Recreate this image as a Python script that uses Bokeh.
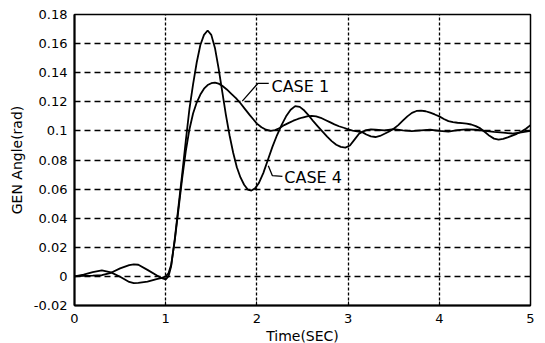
from bokeh.plotting import figure
from bokeh.models import Range1d, FixedTicker, Label
from bokeh.embed import file_html
from bokeh.resources import INLINE

# ---------------- data ----------------
time_case4 = [0.00, 0.10, 0.20, 0.30, 0.40, 0.50, 0.60, 0.65, 0.70, 0.80, 0.90, 0.95,
              1.00, 1.03, 1.06, 1.10, 1.14, 1.18, 1.22, 1.26, 1.30, 1.34, 1.38, 1.42,
              1.46, 1.50, 1.54, 1.58, 1.62, 1.66, 1.70, 1.74, 1.78, 1.82, 1.86, 1.90,
              1.94, 1.98, 2.02, 2.07, 2.12, 2.17, 2.22, 2.27, 2.32, 2.37, 2.42, 2.47,
              2.52, 2.57, 2.62, 2.67, 2.72, 2.77, 2.82, 2.87, 2.92, 2.97, 3.02, 3.07,
              3.12, 3.16, 3.20, 3.25, 3.30, 3.40, 3.50, 3.60, 3.70, 3.80, 3.90, 4.00,
              4.10, 4.20, 4.30, 4.40, 4.50, 4.60, 4.70, 4.80, 4.90, 5.00]
angle_case4 = [0.0, 0.0003, 0.0005, 0.0008, 0.0025, 0.0055, 0.0078, 0.0083, 0.0080, 0.0045, 0.0008, -0.0010,
               -0.0020, 0.0000, 0.0070, 0.0260, 0.0480, 0.0700, 0.0930, 0.1150, 0.1320, 0.1470, 0.1590, 0.1660,
               0.1690, 0.1660, 0.1570, 0.1430, 0.1270, 0.1110, 0.0970, 0.0850, 0.0750, 0.0680, 0.0630, 0.0597,
               0.0590, 0.0605, 0.0640, 0.0710, 0.0800, 0.0890, 0.0970, 0.1040, 0.1100, 0.1145, 0.1170, 0.1165,
               0.1140, 0.1105, 0.1065, 0.1030, 0.0995, 0.0960, 0.0930, 0.0905, 0.0890, 0.0885, 0.0900, 0.0940,
               0.0980, 0.0995, 0.1005, 0.1010, 0.1008, 0.1003, 0.1012, 0.1003, 0.0998, 0.1003, 0.1008, 0.1000,
               0.0995, 0.1005, 0.1010, 0.1008, 0.1000, 0.0993, 0.0988, 0.0982, 0.0990, 0.1000]

time_case1 = [0.00, 0.10, 0.20, 0.30, 0.40, 0.50, 0.60, 0.65, 0.70, 0.80, 0.90, 0.96,
              1.00, 1.03, 1.06, 1.10, 1.14, 1.18, 1.22, 1.26, 1.30, 1.34, 1.38, 1.42,
              1.46, 1.50, 1.54, 1.58, 1.62, 1.67, 1.72, 1.77, 1.82, 1.87, 1.92, 1.96,
              2.00, 2.05, 2.10, 2.15, 2.20, 2.25, 2.30, 2.35, 2.40, 2.45, 2.50, 2.55,
              2.60, 2.65, 2.70, 2.75, 2.80, 2.85, 2.90, 2.96, 3.00, 3.05, 3.10, 3.16,
              3.20, 3.25, 3.30, 3.35, 3.40, 3.45, 3.50, 3.55, 3.60, 3.65, 3.70, 3.75,
              3.80, 3.85, 3.90, 3.95, 4.00, 4.05, 4.10, 4.15, 4.20, 4.25, 4.30, 4.35,
              4.40, 4.45, 4.50, 4.55, 4.60, 4.65, 4.70, 4.75, 4.80, 4.85, 4.90, 4.95, 5.00]
angle_case1 = [0.0, 0.0012, 0.0030, 0.0041, 0.0028, -0.0002, -0.0038, -0.0046, -0.0045, -0.0036, -0.0018, -0.0010,
               0.0000, 0.0020, 0.0080, 0.0250, 0.0460, 0.0670, 0.0860, 0.1010, 0.1120, 0.1195, 0.1250, 0.1290,
               0.1315, 0.1328, 0.1332, 0.1325, 0.1310, 0.1285, 0.1255, 0.1225, 0.1190, 0.1150, 0.1110, 0.1080,
               0.1050, 0.1025, 0.1008, 0.1000, 0.1005, 0.1020, 0.1040, 0.1055, 0.1070, 0.1082, 0.1092, 0.1100,
               0.1104, 0.1100, 0.1090, 0.1075, 0.1060, 0.1045, 0.1032, 0.1020, 0.1010, 0.1002, 0.0996, 0.0990,
               0.0975, 0.0962, 0.0958, 0.0965, 0.0980, 0.0996, 0.1015, 0.1040, 0.1070, 0.1100, 0.1124, 0.1137,
               0.1140, 0.1135, 0.1125, 0.1113, 0.1100, 0.1082, 0.1067, 0.1060, 0.1056, 0.1053, 0.1050, 0.1044,
               0.1033, 0.1017, 0.0992, 0.0966, 0.0947, 0.0940, 0.0945, 0.0956, 0.0968, 0.0980, 0.0995, 0.1015, 0.1040]

x_ticks = [0, 1, 2, 3, 4, 5]
y_ticks = [-0.02, 0.0, 0.02, 0.04, 0.06, 0.08, 0.1, 0.12, 0.14, 0.16, 0.18]
y_tick_labels = ["-0.02", "0", "0.02", "0.04", "0.06", "0.08", "0.1", "0.12", "0.14", "0.16", "0.18"]

x_title = "Time(SEC)"
y_title = "GEN Angle(rad)"

case1_text = "CASE 1"
case1_text_pos = (2.16, 0.1305)
case1_leader_t = [2.13, 2.01, 1.84]
case1_leader_v = [0.1326, 0.1326, 0.1205]

case4_text = "CASE 4"
case4_text_pos = (2.30, 0.0680)
case4_leader_t = [2.28, 2.17, 2.125]
case4_leader_v = [0.0687, 0.0692, 0.0760]

FONT = "DejaVu Sans"

# ---------------- figure ----------------
p = figure(frame_width=456, frame_height=291,
           x_range=Range1d(0, 5), y_range=Range1d(-0.02, 0.18),
           output_backend="svg", toolbar_location=None,
           min_border_left=74, min_border_right=14,
           min_border_top=14, min_border_bottom=36)

p.background_fill_color = "white"
p.border_fill_color = "white"
p.outline_line_color = "black"
p.outline_line_width = 1.5

# axes
p.xaxis.ticker = FixedTicker(ticks=x_ticks)
p.yaxis.ticker = FixedTicker(ticks=y_ticks)
p.yaxis.major_label_overrides = dict(zip(y_ticks, y_tick_labels))
p.xaxis.axis_label = x_title
p.yaxis.axis_label = y_title
for ax in (p.xaxis[0], p.yaxis[0]):
    ax.axis_line_color = "black"
    ax.axis_line_width = 2
    ax.major_tick_line_color = "black"
    ax.major_tick_in = 4
    ax.major_tick_out = 0
    ax.minor_tick_line_color = None
    ax.major_label_text_font = FONT
    ax.major_label_text_font_size = "13px"
    ax.major_label_text_color = "black"
    ax.axis_label_text_font = FONT
    ax.axis_label_text_font_style = "normal"
    ax.axis_label_text_color = "black"
p.xaxis.axis_label_text_font_size = "14px"
p.yaxis.axis_label_text_font_size = "14px"
p.yaxis.major_label_standoff = 7
p.xaxis.major_label_standoff = 8
p.xaxis.axis_label_standoff = 2
p.yaxis.axis_label_standoff = 6

# grid
p.xgrid.grid_line_color = "black"
p.xgrid.grid_line_dash = "3 2"
p.xgrid.grid_line_width = 1.3
p.ygrid.grid_line_color = "black"
p.ygrid.grid_line_dash = "6 4"
p.ygrid.grid_line_width = 1.3

# curves
p.line(time_case1, angle_case1, line_color="black", line_width=1.8)
p.line(time_case4, angle_case4, line_color="black", line_width=1.8)

# annotations
p.line(case1_leader_t, case1_leader_v, line_color="black", line_width=1.3)
p.line(case4_leader_t, case4_leader_v, line_color="black", line_width=1.3)
p.add_layout(Label(x=case1_text_pos[0], y=case1_text_pos[1], text=case1_text,
                   text_font=FONT, text_font_size="16px", text_color="black",
                   text_align="left", text_baseline="middle"))
p.add_layout(Label(x=case4_text_pos[0], y=case4_text_pos[1], text=case4_text,
                   text_font=FONT, text_font_size="16px", text_color="black",
                   text_align="left", text_baseline="middle"))

open("out.html", "w").write(file_html(p, INLINE))
